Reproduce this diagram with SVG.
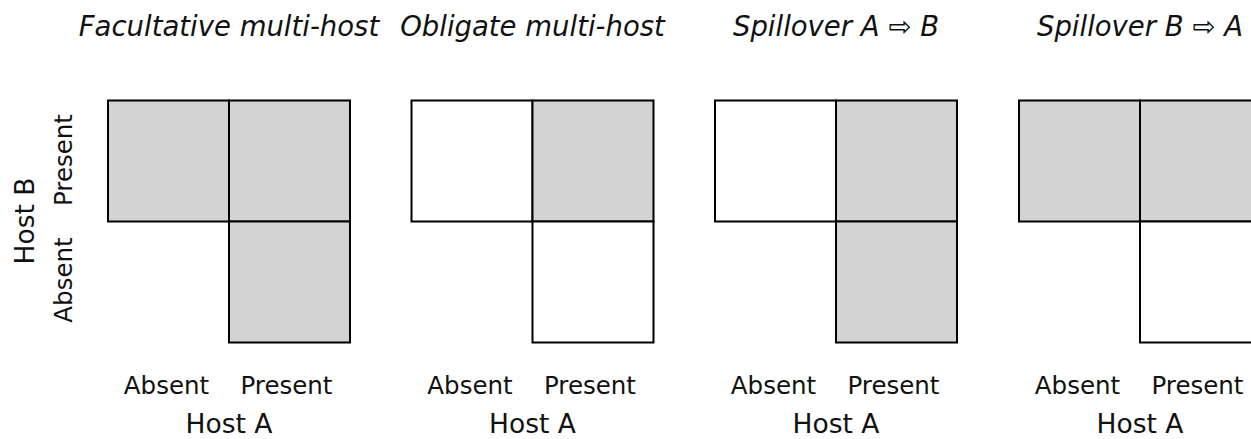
<svg xmlns="http://www.w3.org/2000/svg" width="1251" height="439" viewBox="0 0 1251 439">
<style>
  text { font-family: "DejaVu Sans", Verdana, sans-serif; fill: #111; }
  .title { font-size: 27.5px; font-style: italic; text-anchor: middle; }
  .tick { font-size: 24.5px; text-anchor: middle; }
  .axis { font-size: 26.5px; text-anchor: middle; }
  .on { fill: #d3d3d3; stroke: #000; stroke-width: 2; }
  .off { fill: #ffffff; stroke: #000; stroke-width: 2; }
</style>
<rect width="1251" height="439" fill="#ffffff"/>

<g id="ylabels">
  <text class="axis" transform="translate(34,221) rotate(-90)">Host B</text>
  <text class="tick" transform="translate(72,160) rotate(-90)">Present</text>
  <text class="tick" transform="translate(72,280) rotate(-90)">Absent</text>
</g>

<g id="panel1">
  <text class="title" x="229" y="36">Facultative multi-host</text>
  <rect class="on" x="108" y="100.5" width="121" height="121"/>
  <rect class="on" x="229" y="100.5" width="121" height="121"/>
  <rect class="on" x="229" y="221.5" width="121" height="121"/>
  <text class="tick" x="166.5" y="394">Absent</text>
  <text class="tick" x="286.5" y="394">Present</text>
  <text class="axis" x="229" y="433">Host A</text>
</g>

<g id="panel2">
  <text class="title" x="532.5" y="36">Obligate multi-host</text>
  <rect class="off" x="411.5" y="100.5" width="121" height="121"/>
  <rect class="on" x="532.5" y="100.5" width="121" height="121"/>
  <rect class="off" x="532.5" y="221.5" width="121" height="121"/>
  <text class="tick" x="470" y="394">Absent</text>
  <text class="tick" x="590" y="394">Present</text>
  <text class="axis" x="532.5" y="433">Host A</text>
</g>

<g id="panel3">
  <text class="title" x="836" y="36">Spillover A ⇨ B</text>
  <rect class="off" x="715" y="100.5" width="121" height="121"/>
  <rect class="on" x="836" y="100.5" width="121" height="121"/>
  <rect class="on" x="836" y="221.5" width="121" height="121"/>
  <text class="tick" x="773.5" y="394">Absent</text>
  <text class="tick" x="893.5" y="394">Present</text>
  <text class="axis" x="836" y="433">Host A</text>
</g>

<g id="panel4">
  <text class="title" x="1140" y="36">Spillover B ⇨ A</text>
  <rect class="on" x="1019" y="100.5" width="121" height="121"/>
  <rect class="on" x="1140" y="100.5" width="121" height="121"/>
  <rect class="off" x="1140" y="221.5" width="121" height="121"/>
  <text class="tick" x="1077.5" y="394">Absent</text>
  <text class="tick" x="1197.5" y="394">Present</text>
  <text class="axis" x="1140" y="433">Host A</text>
</g>

<g id="connectors"></g>
</svg>
